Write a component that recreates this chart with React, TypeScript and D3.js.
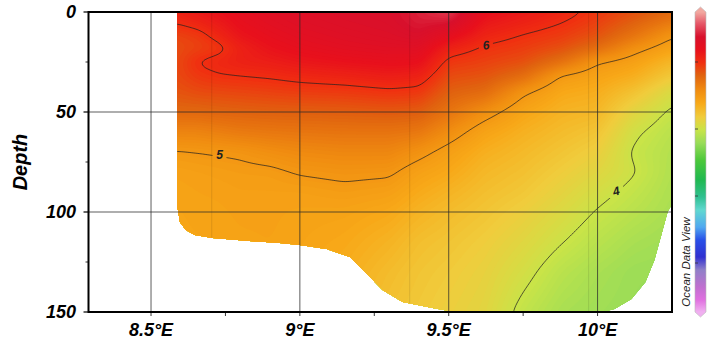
import React, { useMemo } from "react";
import * as d3 from "d3";

const W = 709;
const H = 341;

// Section grid: longitudes of profiles and depth levels
const lons = [8.59, 8.66, 8.73, 8.8, 8.9, 9.0, 9.15, 9.3, 9.4, 9.5, 9.62, 9.75, 9.88, 10.0, 10.12, 10.25];
const depths = [0, 5, 12, 18, 25, 32, 40, 50, 60, 70, 80, 90, 100, 115, 130, 150];

// One profile (values at the depth levels) per longitude
const profiles = [
  [6.15, 6.03, 5.82, 5.78, 5.8, 5.8, 5.72, 5.55, 5.25, 4.98, 4.88, 4.85, 4.83, 4.82, 4.8, 4.78],
  [6.25, 6.12, 5.9, 5.84, 6.02, 5.92, 5.78, 5.55, 5.25, 5.0, 4.9, 4.87, 4.85, 4.83, 4.82, 4.8],
  [6.35, 6.25, 6.1, 5.92, 6.1, 5.98, 5.8, 5.58, 5.3, 5.02, 4.92, 4.88, 4.86, 4.85, 4.83, 4.82],
  [6.45, 6.4, 6.3, 6.15, 6.16, 6.0, 5.82, 5.6, 5.35, 5.04, 4.94, 4.9, 4.88, 4.86, 4.85, 4.84],
  [6.55, 6.5, 6.42, 6.33, 6.2, 6.03, 5.85, 5.62, 5.38, 5.12, 4.95, 4.9, 4.88, 4.87, 4.86, 4.85],
  [6.62, 6.58, 6.5, 6.42, 6.28, 6.08, 5.88, 5.63, 5.4, 5.18, 5.02, 4.9, 4.86, 4.84, 4.82, 4.8],
  [6.68, 6.65, 6.58, 6.5, 6.35, 6.13, 5.9, 5.65, 5.42, 5.22, 5.06, 4.94, 4.85, 4.78, 4.72, 4.65],
  [6.72, 6.7, 6.64, 6.55, 6.4, 6.2, 5.95, 5.68, 5.42, 5.22, 5.04, 4.9, 4.78, 4.65, 4.55, 4.48],
  [6.85, 6.82, 6.72, 6.55, 6.38, 6.15, 5.92, 5.65, 5.38, 5.08, 4.88, 4.76, 4.65, 4.52, 4.45, 4.4],
  [7.0, 6.8, 6.45, 6.15, 5.92, 5.78, 5.62, 5.42, 5.14, 4.9, 4.78, 4.65, 4.55, 4.45, 4.38, 4.32],
  [6.4, 6.28, 6.12, 5.96, 5.85, 5.72, 5.52, 5.12, 4.85, 4.7, 4.6, 4.52, 4.45, 4.35, 4.28, 4.22],
  [6.25, 6.15, 5.98, 5.88, 5.75, 5.5, 5.05, 4.82, 4.68, 4.58, 4.5, 4.42, 4.32, 4.2, 4.08, 3.92],
  [6.1, 6.01, 5.88, 5.75, 5.45, 4.97, 4.78, 4.65, 4.55, 4.45, 4.35, 4.25, 4.15, 4.01, 3.85, 3.72],
  [5.92, 5.85, 5.72, 5.5, 5.02, 4.85, 4.72, 4.6, 4.45, 4.32, 4.2, 4.08, 3.98, 3.85, 3.72, 3.65],
  [5.75, 5.62, 5.42, 5.12, 4.88, 4.72, 4.48, 4.22, 4.05, 3.97, 4.02, 3.93, 3.85, 3.72, 3.62, 3.6],
  [5.55, 5.35, 5.03, 4.85, 4.6, 4.4, 4.12, 3.95, 3.85, 3.8, 3.78, 3.75, 3.72, 3.65, 3.6, 3.58],
];

// Outline of the data coverage (bottom limit), right side to left side
const coverLon = [10.25, 10.25, 10.235, 10.214, 10.191, 10.161, 10.114, 10.057, 10.017, 9.537, 9.503, 9.446, 9.345, 9.278, 9.235, 9.168, 9.09, 9.0, 8.933, 8.832, 8.708, 8.647, 8.617, 8.597, 8.588, 8.588];
const coverDepth = [0, 96, 100, 111.5, 124, 135, 143.5, 148.5, 150, 150, 149.5, 148, 145, 139, 132.5, 122.5, 118.5, 116.5, 115.5, 114.5, 113, 111.5, 109, 105, 97, 0];

const stationLons = [8.704, 9.369, 9.97];

const contourLevels = [4, 5, 6];
const contourLabels = [
  { v: 6, lon: 9.625, depth: 16.5, rot: -8 },
  { v: 5, lon: 8.73, depth: 71.5, rot: 0 },
  { v: 4, lon: 10.062, depth: 89.5, rot: -15 },
];

const xTicks = [8.5, 9, 9.5, 10];
const xMinor = [8.5, 8.75, 9, 9.25, 9.5, 9.75, 10];
const yTicks = [0, 50, 100, 150];
const yMinor = [25, 75, 125];

// ODV-like colour bar
const cbVals = [7.49, 7.16, 6.75, 6.36, 5.97, 5.61, 5.16, 4.78, 4.36, 3.97, 3.58, 3.07, 2.48, 1.97, 1.58, 1.07, 0.69, 0.18, -0.21, -0.72, -1.1, -1.46];
const cbCols = ["#f2a8a0", "#e65a6a", "#d8102c", "#e8101c", "#f03010", "#e0620f", "#f08c10", "#f8a818", "#f0cc3c", "#c8e448", "#98dc58", "#4cc83a", "#20b850", "#30c090", "#60d8d0", "#50a8f0", "#2850e8", "#3030d0", "#9080c8", "#c070d0", "#e070e0", "#f0b0f0"];
const cbTickVals = [6, 4, 2, 0];

const FONT = "'Liberation Sans', Arial, sans-serif";

function locate(arr: number[], v: number): [number, number] {
  if (v <= arr[0]) return [0, 0];
  if (v >= arr[arr.length - 1]) return [arr.length - 2, 1];
  const i = d3.bisectRight(arr, v) - 1;
  return [i, (v - arr[i]) / (arr[i + 1] - arr[i])];
}

function field(lon: number, dep: number) {
  const [i, tx] = locate(lons, lon);
  const [j, ty] = locate(depths, dep);
  const a = profiles[i][j], b = profiles[i + 1][j];
  const c = profiles[i][j + 1], d = profiles[i + 1][j + 1];
  return (a * (1 - tx) + b * tx) * (1 - ty) + (c * (1 - tx) + d * tx) * ty;
}

function boxBlur(v: Float64Array, nx: number, ny: number, r: number) {
  const tmp = new Float64Array(v.length);
  for (let j = 0; j < ny; j++) {
    for (let i = 0; i < nx; i++) {
      let s = 0, n = 0;
      for (let k = -r; k <= r; k++) {
        const ii = Math.min(nx - 1, Math.max(0, i + k));
        s += v[j * nx + ii]; n++;
      }
      tmp[j * nx + i] = s / n;
    }
  }
  for (let j = 0; j < ny; j++) {
    for (let i = 0; i < nx; i++) {
      let s = 0, n = 0;
      for (let k = -r; k <= r; k++) {
        const jj = Math.min(ny - 1, Math.max(0, j + k));
        s += tmp[jj * nx + i]; n++;
      }
      v[j * nx + i] = s / n;
    }
  }
}

export default function App() {
  const x = d3.scaleLinear().domain([8.29, 10.25]).range([88.5, 672]);
  const y = d3.scaleLinear().domain([0, 150]).range([12, 312]);
  const color = d3.scaleLinear<string>().domain(cbVals).range(cbCols).clamp(true);
  const cbY = d3.scaleLinear().domain([6, 0]).range([62, 263]);

  const computed = useMemo(() => {
    const step = 2;
    const gx0 = x(8.55);
    const gy0 = y(-4);
    const nx = Math.ceil((x(10.31) - gx0) / step) + 1;
    const ny = Math.ceil((y(157) - gy0) / step) + 1;
    const grid = new Float64Array(nx * ny);
    for (let j = 0; j < ny; j++) {
      const dep = y.invert(gy0 + j * step);
      for (let i = 0; i < nx; i++) {
        const lon = x.invert(gx0 + i * step);
        grid[j * nx + i] = field(lon, dep);
      }
    }
    boxBlur(grid, nx, ny, 2);
    boxBlur(grid, nx, ny, 2);
    const proj = d3.geoTransform({
      point(px: number, py: number) {
        (this as any).stream.point(gx0 + (px - 0.5) * step, gy0 + (py - 0.5) * step);
      },
    });
    const path = d3.geoPath(proj as any);
    const fillTh = d3.range(3.4, 7.3, 0.035);
    const fills = d3.contours().size([nx, ny]).thresholds(fillTh)(Array.from(grid)).map((c) => ({
      d: path(c as any) || "",
      fill: color(c.value + 0.0175),
    }));
    const lines = d3.contours().size([nx, ny]).thresholds(contourLevels)(Array.from(grid)).map((c) => ({
      d: path(c as any) || "",
      v: c.value,
    }));
    return { fills, lines };
  }, []);

  const coverPts: [number, number][] = coverLon.map((l, i) => [x(l), y(coverDepth[i])]);
  const coverPath = d3.line()(coverPts) + "Z";

  const bottomAt = (lon: number) => {
    let best = 0;
    for (let i = 0; i < coverLon.length - 1; i++) {
      const a = coverLon[i], b = coverLon[i + 1];
      if ((lon - a) * (lon - b) <= 0 && a !== b) {
        const t = (lon - a) / (b - a);
        best = Math.max(best, coverDepth[i] + t * (coverDepth[i + 1] - coverDepth[i]));
      }
    }
    return best;
  };

  const cbTop = 7, cbBot = 317, cbL = 695, cbR = 706;
  const cbStops = cbVals.map((v, i) => ({
    off: (cbY(v) - cbTop) / (cbBot - cbTop),
    col: cbCols[i],
  }));

  return (
    <svg width={W} height={H} style={{ display: "block", position: "absolute", left: 0, top: 0 }}>
      <defs>
        <clipPath id="cover">
          <path d={coverPath} />
        </clipPath>
        <clipPath id="plotArea">
          <rect x={x(8.29)} y={y(0)} width={x(10.25) - x(8.29)} height={y(150) - y(0)} />
        </clipPath>
        <mask id="lblMask" maskUnits="userSpaceOnUse" x={0} y={0} width={W} height={H}>
          <rect x={0} y={0} width={W} height={H} fill="white" />
          {contourLabels.map((l, i) => (
            <rect key={i} x={x(l.lon) - 7} y={y(l.depth) - 7} width={14} height={14} fill="black" />
          ))}
        </mask>
        <linearGradient id="cbGrad" x1="0" y1="0" x2="0" y2="1">
          {cbStops.map((s, i) => (
            <stop key={i} offset={s.off} stopColor={s.col} />
          ))}
        </linearGradient>
      </defs>
      <rect x={0} y={0} width={W} height={H} fill="white" />

      <g clipPath="url(#plotArea)">
        <g clipPath="url(#cover)">
          {computed.fills.map((f, i) => (
            <path key={i} d={f.d} fill={f.fill} stroke="none" />
          ))}
          {stationLons.map((s, i) => (
            <line key={i} x1={x(s)} x2={x(s)} y1={y(0)} y2={y(bottomAt(s))} stroke="#000" strokeOpacity={0.1} strokeWidth={1} />
          ))}
          <g mask="url(#lblMask)">
            {computed.lines.map((l, i) => (
              <path key={i} d={l.d} fill="none" stroke="#222" strokeWidth={0.8} strokeOpacity={0.9} />
            ))}
          </g>
          {contourLabels.map((l, i) => (
            <text
              key={i}
              x={x(l.lon)}
              y={y(l.depth)}
              dy="0.36em"
              textAnchor="middle"
              fontFamily={FONT}
              fontWeight="bold"
              fontStyle="italic"
              fontSize={12}
              fill="#222"
              transform={`rotate(${l.rot},${x(l.lon)},${y(l.depth)})`}
            >
              {l.v}
            </text>
          ))}
        </g>
        {xTicks.map((t) => (
          <line key={t} x1={x(t)} x2={x(t)} y1={y(0)} y2={y(150)} stroke="#2a2a2a" strokeWidth={0.9} strokeOpacity={0.85} />
        ))}
        {[50, 100].map((t) => (
          <line key={t} x1={x(8.29)} x2={x(10.25)} y1={y(t)} y2={y(t)} stroke="#2a2a2a" strokeWidth={0.9} strokeOpacity={0.85} />
        ))}
      </g>

      {/* frame */}
      <rect x={x(8.29)} y={y(0)} width={x(10.25) - x(8.29)} height={y(150) - y(0)} fill="none" stroke="#000" strokeWidth={2} />

      {/* y ticks */}
      {yTicks.map((t) => (
        <line key={t} x1={x(8.29) - 5} x2={x(8.29)} y1={y(t)} y2={y(t)} stroke="#000" strokeWidth={1.2} />
      ))}
      {yMinor.map((t) => (
        <line key={t} x1={x(8.29) - 3} x2={x(8.29)} y1={y(t)} y2={y(t)} stroke="#000" strokeWidth={0.8} />
      ))}
      {yTicks.map((t) => (
        <text key={t} x={76} y={y(t)} dy="0.36em" textAnchor="end" fontFamily={FONT} fontWeight="bold" fontStyle="italic" fontSize={18} fill="#000">
          {t}
        </text>
      ))}
      <text
        transform={`translate(27,${y(75)}) rotate(-90)`}
        textAnchor="middle"
        fontFamily={FONT}
        fontWeight="bold"
        fontStyle="italic"
        fontSize={20}
        fill="#000"
      >
        Depth
      </text>

      {/* x ticks */}
      {xMinor.map((t) => (
        <line key={t} x1={x(t)} x2={x(t)} y1={y(150)} y2={y(150) + 4} stroke="#000" strokeWidth={0.8} />
      ))}
      {xTicks.map((t) => (
        <text key={t} x={x(t)} y={336} textAnchor="middle" fontFamily={FONT} fontWeight="bold" fontStyle="italic" fontSize={18} fill="#000">
          {`${t}°E`}
        </text>
      ))}

      {/* colour bar */}
      <path
        d={`M${cbL},${cbBot - 5} L${cbL},${cbTop + 5} L${(cbL + cbR) / 2},${cbTop} L${cbR},${cbTop + 5} L${cbR},${cbBot - 5} L${(cbL + cbR) / 2},${cbBot} Z`}
        fill="url(#cbGrad)"
        stroke="#bbb"
        strokeWidth={0.6}
      />
      {cbTickVals.map((v) => (
        <line key={v} x1={cbL} x2={cbL + 3} y1={cbY(v)} y2={cbY(v)} stroke="#333" strokeWidth={0.8} />
      ))}
      <text
        transform={`translate(690,262) rotate(-90)`}
        textAnchor="middle"
        fontFamily={FONT}
        fontStyle="italic"
        fontSize={11.5}
        fill="#222"
      >
        Ocean Data View
      </text>
    </svg>
  );
}
